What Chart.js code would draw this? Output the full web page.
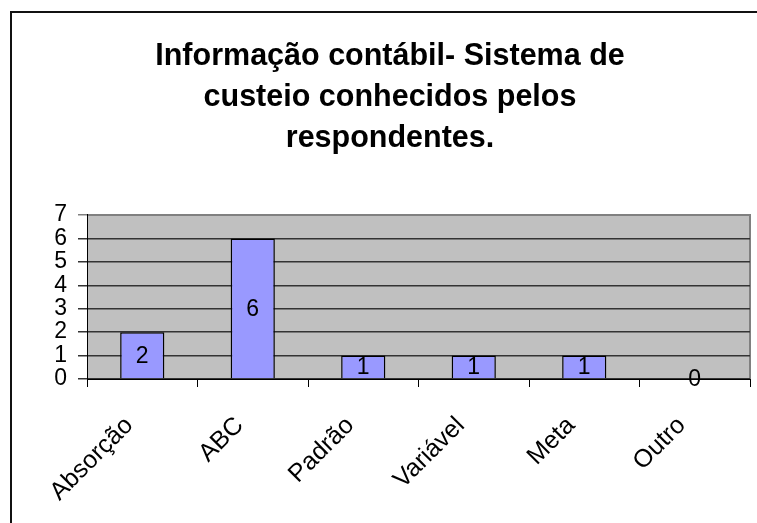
<!DOCTYPE html>
<html>
<head>
<meta charset="utf-8">
<script src="https://cdn.jsdelivr.net/npm/chart.js@4/dist/chart.umd.min.js"></script>
<style>
  html, body { margin: 0; padding: 0; background: #fff; overflow: hidden; }
  #wrap { width: 757px; height: 523px; }
</style>
</head>
<body>
<div id="wrap"><canvas id="grafica" width="757" height="523"></canvas></div>
<script>
const titulo = ['Informação contábil- Sistema de', 'custeio conhecidos pelos', 'respondentes.'];
const sistemas = ['Absorção', 'ABC', 'Padrão', 'Variável', 'Meta', 'Outro'];
const respostas = [2, 6, 1, 1, 1, 0];

const fonte = '"Liberation Sans", Arial, sans-serif';

// fundo cinza da area do grafico + moldura externa
const fundoPlot = {
    id: 'fundoPlot',
    beforeDraw(chart) {
        const { ctx, chartArea: a } = chart;
        ctx.save();
        ctx.fillStyle = '#c0c0c0';
        ctx.fillRect(a.left, a.top, a.right - a.left, a.bottom - a.top);
        ctx.strokeStyle = '#808080';
        ctx.lineWidth = 2;
        ctx.beginPath();
        ctx.moveTo(a.left, a.top);
        ctx.lineTo(a.right, a.top);
        ctx.lineTo(a.right, a.bottom);
        ctx.stroke();
        // moldura do grafico (so aparece a esquerda e em cima)
        ctx.strokeStyle = '#111';
        ctx.lineWidth = 2;
        ctx.strokeRect(11, 12, 900, 700);
        ctx.restore();
    }
};

// rotulos de valor no meio de cada barra
const rotulosValor = {
    id: 'rotulosValor',
    afterDatasetsDraw(chart) {
        const { ctx } = chart;
        const meta = chart.getDatasetMeta(0);
        ctx.save();
        ctx.font = '23px ' + fonte;
        ctx.fillStyle = '#000';
        ctx.textAlign = 'center';
        ctx.textBaseline = 'middle';
        meta.data.forEach((bar, i) => {
            const y = (bar.y + bar.base) / 2;
            ctx.fillText(String(respostas[i]), bar.x, y + 1);
        });
        ctx.restore();
    }
};

const ctx = document.getElementById('grafica').getContext('2d');
new Chart(ctx, {
    type: 'bar',
    data: {
        labels: sistemas,
        datasets: [{
            label: 'Respondentes',
            data: respostas,
            backgroundColor: '#9999ff',
            borderColor: '#000',
            borderWidth: 1.5,
            barPercentage: 0.4,
            categoryPercentage: 1
        }]
    },
    options: {
        responsive: false,
        animation: false,
        layout: { padding: { left: 30, right: 7, top: 0, bottom: 0 } },
        plugins: {
            legend: { display: false },
            tooltip: { enabled: false },
            title: {
                display: true,
                text: titulo,
                color: '#000',
                font: { family: fonte, size: 30.5, weight: 'bold', lineHeight: 1.344 },
                padding: { top: 36.5, bottom: 55.5 }
            }
        },
        scales: {
            x: {
                grid: {
                    display: true,
                    drawOnChartArea: false,
                    color: '#000',
                    tickLength: 8,
                    offset: true
                },
                border: { color: '#000', width: 1 },
                ticks: {
                    color: '#000',
                    font: { family: fonte, size: 25 },
                    minRotation: 45,
                    maxRotation: 45,
                    autoSkip: false,
                    padding: 24,
                    labelOffset: -13
                },
                afterFit(scale) { scale.height = 523 - 379; }
            },
            y: {
                min: 0,
                max: 7,
                ticks: {
                    stepSize: 1,
                    autoSkip: false,
                    color: '#000',
                    font: { family: fonte, size: 23 },
                    padding: 11
                },
                grid: {
                    color: (c) => c.tick && c.tick.value === 7 ? '#808080' : '#333',
                    lineWidth: 1.5,
                    tickLength: 9
                },
                border: { color: '#000', width: 1 },
                afterFit(scale) { scale.width = 57; }
            }
        }
    },
    plugins: [fundoPlot, rotulosValor]
});
</script>
</body>
</html>
